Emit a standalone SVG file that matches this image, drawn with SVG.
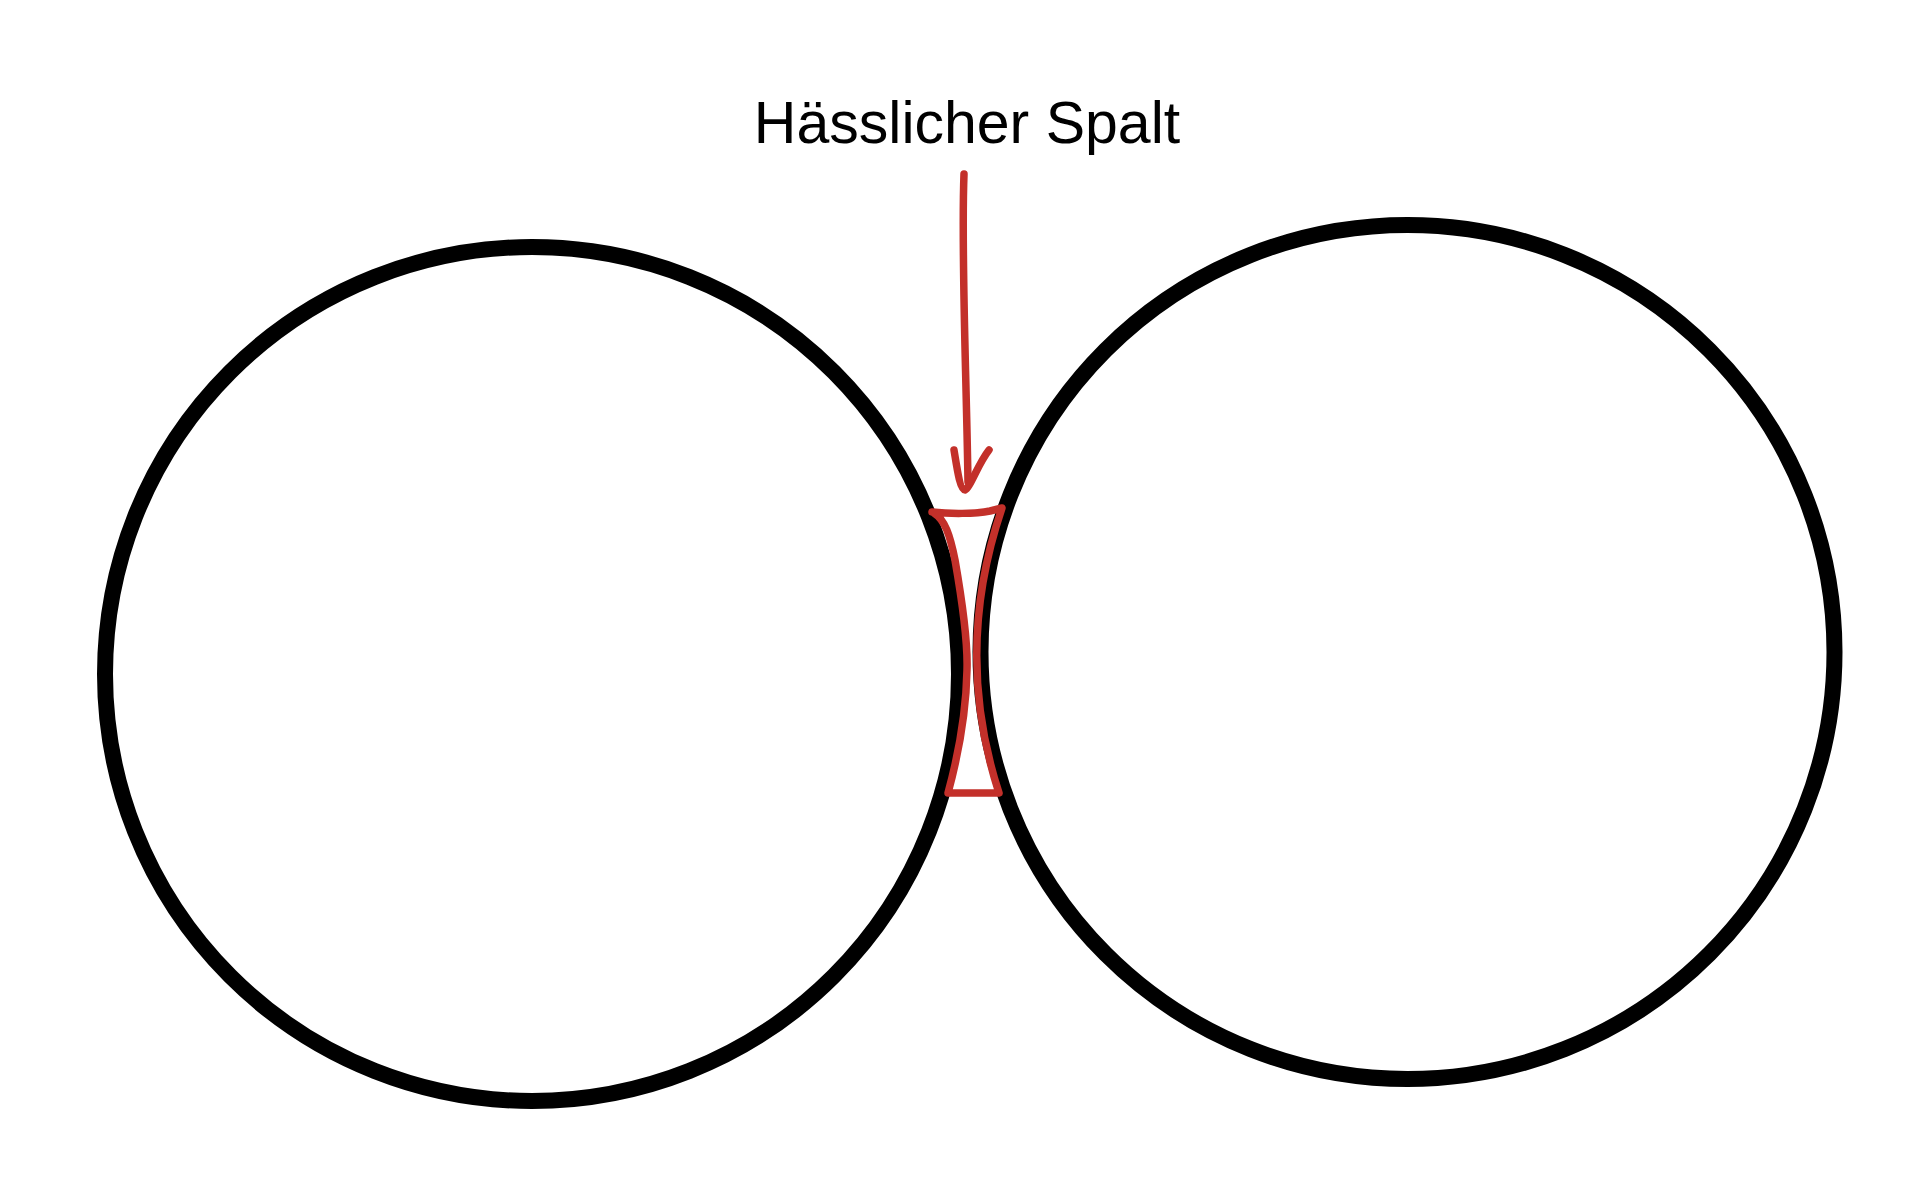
<svg xmlns="http://www.w3.org/2000/svg" width="1925" height="1203" viewBox="0 0 1925 1203">
<style>
.circ{fill:none;stroke:#000;stroke-width:16}
.red{fill:none;stroke:#c3302a;stroke-width:7.5;stroke-linecap:round;stroke-linejoin:round}
.lbl{font-family:"Liberation Sans",Arial,Helvetica,sans-serif;font-size:59px;fill:#000}
</style>
<rect width="1925" height="1203" fill="#fff"/>
<g id="circle-left"><circle class="circ" cx="532" cy="674" r="427"/></g>
<g id="circle-right"><circle class="circ" cx="1407.5" cy="652" r="427"/></g>
<g id="label"><text class="lbl" x="967" y="143" text-anchor="middle">Hässlicher Spalt</text></g>
<g id="gap"><path class="red" stroke-width="8" d="M932,512 C950,514 975,514 990,511 L1002,508 Q953,652 999,793 L948,793 C957,760 966,720 967,670 C968,640 962,600 955,560 C950,535 945,520 934,513"/></g>
<g id="connectors">
<path class="red" d="M964,174 C961,250 966,360 968,482"/>
<path class="red" d="M954,450 C957,468 960,490 965,490 C970,488 978,464 989,450"/>
</g>
</svg>
